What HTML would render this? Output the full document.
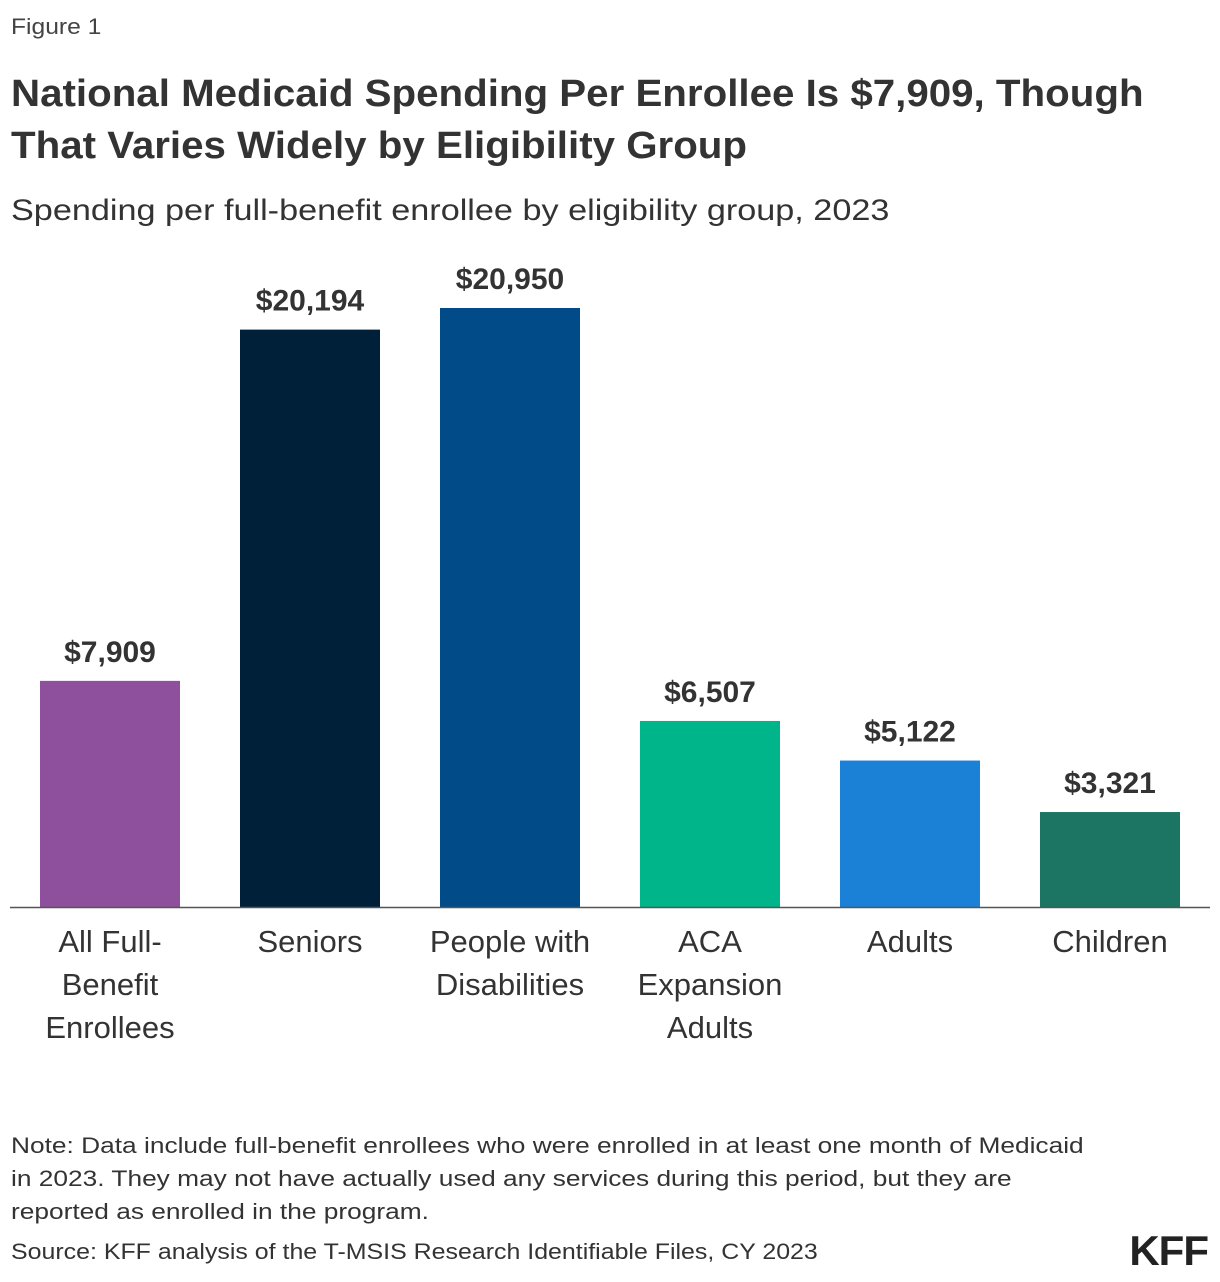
<!DOCTYPE html>
<html><head><meta charset="utf-8">
<style>
body{margin:0;width:1220px;height:1282px;background:#fff;font-family:"Liberation Sans",sans-serif;color:#2b2b2b;position:relative;overflow:hidden}
.t{position:absolute;left:11px;white-space:nowrap;transform-origin:0 0}
</style></head><body>
<div class="t" style="top:14px;font-size:22px;color:#444;transform:scaleX(1.12)">Figure 1</div>
<div class="t" style="top:68px;font-size:38px;font-weight:bold;line-height:52px;color:#333;transform:scaleX(1.06)">National Medicaid Spending Per Enrollee Is $7,909, Though<br>That Varies Widely by Eligibility Group</div>
<div class="t" style="top:194px;font-size:30px;color:#333;transform:scaleX(1.14)">Spending per full-benefit enrollee by eligibility group, 2023</div>
<svg width="1220" height="1100" style="position:absolute;left:0;top:0" id="chart"></svg>
<div class="t" style="top:1129px;font-size:22px;line-height:33px;color:#333;transform:scaleX(1.195)">Note: Data include full-benefit enrollees who were enrolled in at least one month of Medicaid<br>in 2023. They may not have actually used any services during this period, but they are<br>reported as enrolled in the program.</div>
<div class="t" style="top:1239px;font-size:22px;color:#333;transform:scaleX(1.133)">Source: KFF analysis of the T-MSIS Research Identifiable Files, CY 2023</div>
<div style="position:absolute;right:12px;top:1227px;font-size:42px;font-weight:bold;color:#222;letter-spacing:-1px">KFF</div>
<script>
const categories=[["All Full-","Benefit","Enrollees"],["Seniors"],["People with","Disabilities"],["ACA","Expansion","Adults"],["Adults"],["Children"]];
const values=[7909,20194,20950,6507,5122,3321];
const labels=["$7,909","$20,194","$20,950","$6,507","$5,122","$3,321"];
const colors=["#8E4F9D","#00203A","#004B88","#00B58A","#1A81D6","#1B7562"];
const svg=document.getElementById('chart');const NS="http://www.w3.org/2000/svg";
const base=907,scale=599/20950;
const y=v=>base-v*scale;const x=i=>40+i*200;
function mk(t,a){const e=document.createElementNS(NS,t);for(const k in a)e.setAttribute(k,a[k]);svg.appendChild(e);return e;}
values.forEach((v,i)=>{
 const r=mk('rect',{x:x(i),y:y(v),width:140,height:base-y(v),fill:colors[i]});
 
 
 const t=mk('text',{x:x(i)+70,y:y(v)-19,'text-anchor':'middle','font-size':30,'font-weight':'bold',fill:'#333','textLength':0});
 t.removeAttribute('textLength');
 t.textContent=labels[i];
 
 
 categories[i].forEach((line,j)=>{
  const c=mk('text',{x:x(i)+70,y:952+j*43,'text-anchor':'middle','font-size':31,fill:'#333'});
  c.textContent=line;
  
  
 });
});
const ax=mk('line',{x1:10,x2:1210,y1:base+0.5,y2:base+0.5,stroke:'#555','stroke-width':1.5});


</script>
</body></html>
